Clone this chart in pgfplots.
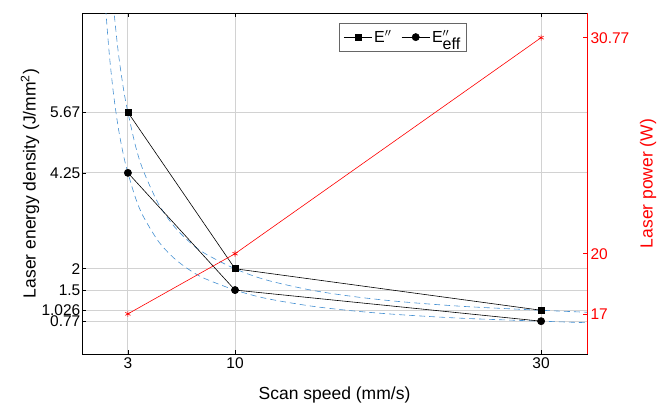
\documentclass[border=0pt]{standalone}
\usepackage{pgfplots}
\pgfplotsset{compat=1.18}
\usepackage{fontspec}
\setmainfont{Liberation Sans}
\definecolor{fitblue}{RGB}{70,145,210}
\definecolor{gridgray}{RGB}{210,210,210}
\definecolor{pred}{RGB}{255,0,0}

\begin{document}
\begin{tikzpicture}
\path[use as bounding box] (0,0) rectangle (667pt,410pt);
\begin{axis}[
  at={(82pt,56pt)}, anchor=south west,
  scale only axis, width=505pt, height=341pt,
  xmin=0, xmax=33, ymin=0, ymax=8,
  xtick={3,10,30}, xticklabels={3,10,30},
  ytick={0.77,1.026,1.5,2,4.25,5.67},
  yticklabels={0.77,1.026,1.5,2,4.25,5.67},
  ytick pos=left,
  tick align=inside,
  grid=major, major grid style={gridgray, line width=0.9pt},
  axis line style={black, line width=0.6pt},
  tick style={black, line width=0.6pt},
  major tick length=4pt,
  ticklabel style={font=\fontsize{15.5}{18}\selectfont},
  yticklabel style={inner sep=1.5pt},
  label style={font=\fontsize{17.5}{20}\selectfont},
  xlabel={Scan speed (mm/s)},
  xlabel style={at={(axis description cs:0.5,-0.12)}, anchor=center},
  ylabel={Laser energy density (J/mm\textsuperscript{2})},
  ylabel style={at={(axis description cs:-0.103,0.5)}, anchor=center},
  legend style={at={(axis description cs:0.636,0.971)}, anchor=north,
    legend columns=2, draw=gray!80!black, line width=0.6pt,
    font=\fontsize{16}{19}\selectfont, inner xsep=4pt, inner ysep=5pt,
    /tikz/every even column/.append style={column sep=8pt}},
  legend image code/.code={\draw[#1, mark repeat=2, mark phase=2]
    plot coordinates {(0pt,0pt) (14pt,0pt) (28pt,0pt)};},
]
% dashed fit curves
\addplot[fitblue, dashed, dash pattern=on 6pt off 4pt, line width=0.6pt, smooth, forget plot] coordinates {
 (2.05,8.171) (2.3,7.296) (2.5,6.726) (2.75,6.133) (3,5.67) (3.5,4.877) (4,4.308)
 (5,3.520) (6,3.003) (7,2.637) (8,2.365) (10,2.0) (12,1.741) (15,1.497)
 (18,1.336) (21,1.222) (25,1.115) (30,1.026) (33,0.979)};
\addplot[fitblue, dashed, dash pattern=on 6pt off 4pt, line width=0.6pt, smooth, forget plot] coordinates {
 (1.55,8.10) (1.6,7.846) (1.8,6.972) (2.05,6.128) (2.3,5.472) (2.5,5.045) (2.75,4.600)
 (3,4.25) (3.5,3.658) (4,3.231) (5,2.640) (6,2.252) (7,1.978) (8,1.774)
 (10,1.5) (12,1.306) (15,1.123) (18,1.002) (21,0.917) (25,0.836) (30,0.77) (33,0.734)};
% data
\addplot[black, line width=0.6pt, mark=square*, mark size=3pt] coordinates {(3,5.67) (10,2) (30,1.026)};
\addlegendentry{E$^{\prime\prime}$}
\addplot[black, line width=0.6pt, mark=*, mark size=3.6pt] coordinates {(3,4.25) (10,1.5) (30,0.77)};
\addlegendentry{E$^{\prime\prime}_{\textnormal{eff}}$}
\end{axis}
\begin{axis}[
  at={(82pt,56pt)}, anchor=south west,
  scale only axis, width=505pt, height=341pt,
  xmin=0, xmax=33, ymin=15, ymax=32,
  axis x line=none, axis y line*=right,
  tick align=inside,
  ytick={17,20,30.77}, yticklabels={17,20,30.77},
  axis line style={pred, line width=0.6pt, -},
  tick style={pred, line width=0.6pt},
  major tick length=4pt,
  ticklabel style={font=\fontsize{15.5}{18}\selectfont, text=pred},
  ylabel={Laser power (W)},
  ylabel style={at={(axis description cs:1.121,0.5)}, anchor=center,
    font=\fontsize{17.5}{20}\selectfont, text=pred},
]
\addplot[pred, line width=0.6pt, mark=asterisk, mark size=3pt] coordinates {(3,17) (10,20) (30,30.77)};
\end{axis}
\end{tikzpicture}
\end{document}
